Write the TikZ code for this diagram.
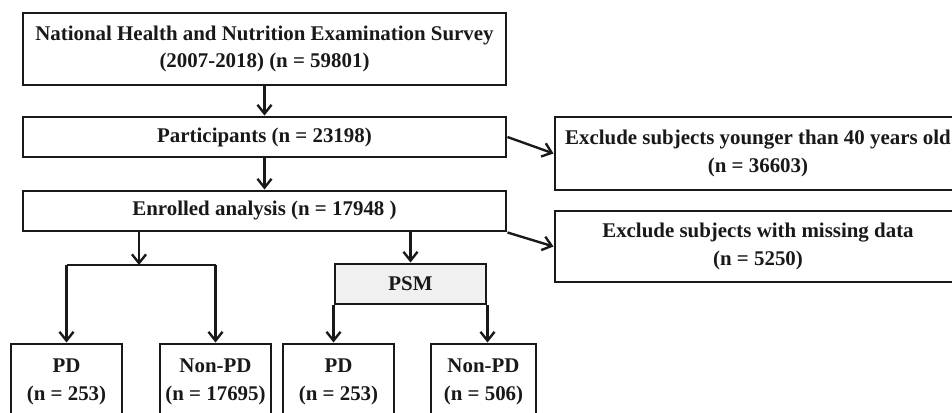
\documentclass[tikz,border=0pt]{standalone}
\usepackage{fontspec}
\setmainfont{Liberation Serif}
\usepackage{tikz}
\usetikzlibrary{arrows.meta, positioning}
\definecolor{linegray}{RGB}{25,25,25}
\definecolor{psmfill}{RGB}{240,240,240}

\begin{document}
\begin{tikzpicture}[
  box/.style={draw=linegray, fill=white, line width=1.7pt,
              inner sep=0pt, align=center, text=linegray,
              font=\fontsize{11.9}{15.6}\selectfont\bfseries},
  psmbox/.style={box, fill=psmfill},
  arrow/.style={-{Straight Barb[length=5pt, width=8pt]}, line width=1.35pt, color=linegray},
  line/.style={line width=1.35pt, color=linegray}
]

\useasboundingbox (0, 0) rectangle (19.04, -8.26);
\clip (0, 0) rectangle (19.04, -8.26);

\node[box, minimum width=9.66cm, minimum height=1.44cm] (survey) at (5.29, -0.98)
  {National Health and Nutrition Examination Survey\\(2007-2018) (n = 59801)};
\node[box, minimum width=9.66cm, minimum height=0.8cm]  (part)   at (5.29, -2.74)
  {Participants (n = 23198)};
\node[box, minimum width=9.66cm, minimum height=0.8cm]  (enrol)  at (5.29, -4.22)
  {Enrolled analysis (n = 17948 )};
\node[box, minimum width=8.12cm, minimum height=1.46cm] (exyoung) at (15.16, -3.07)
  {Exclude subjects younger than 40 years old\\(n = 36603)};
\node[box, minimum width=8.12cm, minimum height=1.42cm] (exmiss)  at (15.16, -4.93)
  {Exclude subjects with missing data\\(n = 5250)};
\node[psmbox, minimum width=3.02cm, minimum height=0.8cm] (psm) at (8.21, -5.68) {PSM};

\node[box, minimum width=2.22cm, minimum height=1.52cm] (pdall)   at (1.33, -7.64) {PD\\(n = 253)};
\node[box, minimum width=2.22cm, minimum height=1.52cm] (nonall)  at (4.31, -7.64) {Non-PD\\(n = 17695)};
\node[box, minimum width=2.22cm, minimum height=1.52cm] (pdpsm)   at (6.77, -7.64) {PD\\(n = 253)};
\node[box, minimum width=2.10cm, minimum height=1.52cm] (nonpsm)  at (9.67, -7.64) {Non-PD\\(n = 506)};

\coordinate (split) at (2.78, -5.30);

\draw[arrow] (survey) -- (part);
\draw[arrow] (part)   -- (enrol);
\draw[arrow] (part.east) -- (exyoung.west);
\draw[arrow] (enrol.south east) -- (exmiss.west);

% whole sample
\draw[arrow] (enrol.south -| split) -- (split);
\draw[line]  (split -| pdall) -- (split -| nonall);
\draw[arrow] (split -| pdall)  -- (pdall);
\draw[arrow] (split -| nonall) -- (nonall);

% matched sample
\draw[arrow] (enrol.south -| psm) -- (psm);
\draw[arrow] (psm.south west) -- (psm.south west |- pdpsm.north);
\draw[arrow] (psm.south east) -- (psm.south east |- nonpsm.north);

\end{tikzpicture}
\end{document}
